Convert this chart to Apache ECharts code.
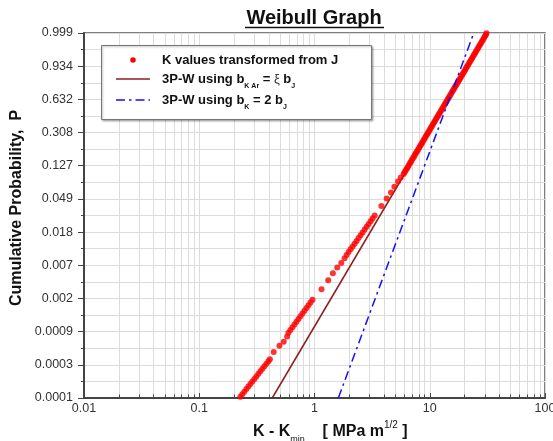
<!DOCTYPE html>
<html><head><meta charset="utf-8">
<script src="https://cdn.jsdelivr.net/npm/echarts@6/dist/echarts.min.js"></script>
<style>html,body{margin:0;padding:0;background:#fff}#c{width:553px;height:441px}</style>
</head><body><div id="c"></div>
<script>
const FONT = "'Liberation Sans', Arial, sans-serif";
const xTickLabels = ['0.01', '0.1', '1', '10', '100'];
const yTickLabels = ['0.0001','0.0003','0.0009','0.002','0.007','0.018','0.049','0.127','0.308','0.632','0.934','0.999'];

// K - Kmin values of the red dots
const kRed = [
  0.2272,0.2365,0.2461,0.2563,0.2668,0.2777,0.2890,0.3009,0.3132,0.3260,0.3393,0.3532,0.3675,0.3826,0.3981,0.4102,
  0.4426,0.4963,0.5408,0.5788,
  0.5941,0.6184,0.6437,0.6700,0.6974,0.7258,0.7555,0.7865,0.8187,0.8521,0.8869,0.9232,0.9608,
  1.150,1.315,1.443,1.575,1.707,1.823,
  1.898,1.976,2.056,2.140,2.228,2.319,2.413,2.512,2.615,2.722,2.833,2.949,3.069,3.194,3.325,
  3.802,4.228,4.609,4.932,5.301,5.596,
  5.934,6.052,6.171,6.293,6.418,6.545,6.674,6.806,6.940,7.077,7.217,7.360,7.505,7.654,7.805,7.960,
  8.117,8.278,8.441,8.608,8.778,8.952,9.129,9.309,9.492,9.680,9.871,10.067,10.265,10.468,10.675,10.886,
  11.101,11.321,11.545,11.773,12.006,12.243,12.485,12.733,12.984,13.241,13.503,13.770,14.042,14.320,14.603,14.892,
  15.186,15.486,15.792,16.104,16.423,16.748,17.079,17.416,17.761,18.112,18.470,18.835,19.208,19.588,19.975,20.370,
  20.772,21.183,21.602,22.029,22.465,22.910,23.363,23.825,24.296,24.776,25.266,25.766,26.275,26.795,27.324,27.865,
  28.416,28.978,29.551,30.115,30.731,31.04
];
// Weibull-transformed cumulative probability ln(-ln(1-P)) of the red dots
const wRed = [
  -8.964,-8.886,-8.810,-8.732,-8.657,-8.578,-8.503,-8.425,-8.349,-8.271,-8.196,-8.117,-8.042,-7.967,-7.889,-7.831,
  -7.617,-7.428,-7.307,-7.148,
  -7.036,-6.953,-6.870,-6.788,-6.705,-6.622,-6.539,-6.456,-6.373,-6.291,-6.208,-6.125,-6.042,
  -5.720,-5.449,-5.238,-5.069,-4.928,-4.786,
  -4.687,-4.602,-4.518,-4.434,-4.349,-4.265,-4.181,-4.096,-4.012,-3.925,-3.840,-3.756,-3.672,-3.587,-3.503,
  -3.211,-2.991,-2.810,-2.630,-2.479,-2.358,
  -2.25,-2.20,-2.15,-2.10,-2.05,-2.00,-1.95,-1.90,-1.85,-1.80,-1.75,-1.70,-1.65,-1.60,-1.55,-1.50,
  -1.45,-1.40,-1.35,-1.30,-1.25,-1.20,-1.15,-1.10,-1.05,-1.00,-0.95,-0.90,-0.85,-0.80,-0.75,-0.70,
  -0.65,-0.60,-0.55,-0.50,-0.45,-0.40,-0.35,-0.30,-0.25,-0.20,-0.15,-0.10,-0.05,0.00,0.05,0.10,
  0.15,0.20,0.25,0.30,0.35,0.40,0.45,0.50,0.55,0.60,0.65,0.70,0.75,0.80,0.85,0.90,
  0.95,1.00,1.05,1.10,1.15,1.20,1.25,1.30,1.35,1.40,1.45,1.50,1.55,1.60,1.65,1.70,
  1.75,1.80,1.85,1.90,1.95,1.99
];
const kBrown = [0.43, 31.9];
const wBrown = [-9, 2];
const kBlue = [1.61, 24.1];
const wBlue = [-9, 2];

const decades = [0.01, 0.1, 1, 10];
const minorMult = [2, 3, 4, 5, 6, 7, 8, 9];
const xMinor = [];
decades.forEach(d => minorMult.forEach(m => xMinor.push([+(d * m).toPrecision(3), -9])));

const zip = (a, b) => a.map((v, i) => [v, b[i]]);

const chart = echarts.init(document.getElementById('c'), null, {renderer: 'canvas'});
const gridCol = '#dcdcdc';
chart.setOption({
  animation: false,
  backgroundColor: '#fff',
  grid: {left: 84, right: 8, top: 33, bottom: 43, show: true, borderColor: '#555', borderWidth: 1.5,
    backgroundColor: '#fff', containLabel: false, outerBoundsMode: 'none'},
  xAxis: {
    type: 'log', logBase: 10, min: 0.01, max: 100,
    axisLine: {show: true, onZero: false, lineStyle: {color: '#444', width: 2}},
    axisTick: {show: true, inside: true, length: 5, lineStyle: {color: '#444'}},
    axisLabel: {margin: 4, fontSize: 12.5, fontFamily: FONT, color: '#333', hideOverlap: false,
      formatter: v => xTickLabels[Math.round(Math.log10(v)) + 2]},
    splitLine: {show: true, lineStyle: {color: gridCol, width: 1}}
  },
  yAxis: {
    type: 'value', min: -9, max: 2, interval: 1,
    axisLine: {show: true, onZero: false, lineStyle: {color: '#444', width: 2}},
    axisTick: {show: true, inside: false, length: 6, lineStyle: {color: '#444'}},
    minorTick: {show: true, splitNumber: 2, length: 3, lineStyle: {color: '#444'}},
    minorSplitLine: {show: true, lineStyle: {color: gridCol, width: 1}},
    axisLabel: {margin: 11, fontSize: 12.5, fontFamily: FONT, color: '#333',
      formatter: v => yTickLabels[Math.round(v) + 9]},
    splitLine: {show: true, lineStyle: {color: gridCol, width: 1}}
  },
  series: [
    {
      type: 'custom', z: 1, silent: true,
      data: xMinor, encode: {x: 0, y: 1},
      renderItem: (params, api) => {
        const b = api.coord([api.value(0), -9]);
        const t = api.coord([api.value(0), 2]);
        const x = Math.round(b[0]) + 0.5;
        return {type: 'group', children: [
          {type: 'line', shape: {x1: x, y1: t[1], x2: x, y2: b[1]}, style: {stroke: gridCol, lineWidth: 1}},
          {type: 'line', shape: {x1: x, y1: b[1], x2: x, y2: b[1] - 3.5}, style: {stroke: '#444', lineWidth: 1}}
        ]};
      }
    },
    {
      name: 'brown', type: 'line', z: 3, showSymbol: false, symbol: 'none',
      data: zip(kBrown, wBrown),
      lineStyle: {color: '#8B1E1E', width: 1.5}
    },
    {
      name: 'K values transformed from J', type: 'scatter', z: 4,
      data: zip(kRed, wRed), symbolSize: 6,
      itemStyle: {color: '#ff0000'}
    },
    {
      name: 'blue', type: 'line', z: 5, showSymbol: false, symbol: 'none',
      data: zip(kBlue, wBlue),
      lineStyle: {color: '#1010ff', width: 1.5, type: [9, 4, 2.5, 4]}
    }
  ],
  graphic: [
    {type: 'text', z: 100, x: 314, y: 18,
      style: {text: 'Weibull Graph', fill: '#111', font: 'bold 20px ' + FONT, align: 'center', verticalAlign: 'middle'}},
    {type: 'line', z: 100, shape: {x1: 245, y1: 27.5, x2: 384, y2: 27.5}, style: {stroke: '#111', lineWidth: 1.6}},
    {type: 'text', z: 100, x: 17, y: 208, rotation: Math.PI / 2,
      style: {text: 'Cumulative Probability,  P', fill: '#111', font: 'bold 16px ' + FONT, align: 'center', verticalAlign: 'middle'}},
    {type: 'text', z: 100, x: 253, y: 432,
      style: {
        text: '{b|K - K}{sub|min}{b|    [ MPa m}{sup|1/2}{b| ]}',
        align: 'left', verticalAlign: 'middle',
        rich: {
          b: {fontSize: 16, fontWeight: 'bold', fontFamily: FONT, fill: '#111', lineHeight: 24},
          sub: {fontSize: 9, fontFamily: FONT, fill: '#111', lineHeight: 8, verticalAlign: 'bottom'},
          sup: {fontSize: 10, fontFamily: FONT, fill: '#111', lineHeight: 9, verticalAlign: 'top'}
        }
      }},
    // legend
    {type: 'rect', z: 100, shape: {x: 101.5, y: 45.5, width: 270, height: 74},
      style: {fill: '#fff', stroke: '#777', lineWidth: 1, shadowBlur: 2, shadowOffsetX: 1, shadowOffsetY: 1, shadowColor: 'rgba(0,0,0,0.3)'}},
    {type: 'circle', z: 101, shape: {cx: 133, cy: 60, r: 2.75}, style: {fill: '#ff0000'}},
    {type: 'line', z: 101, shape: {x1: 116, y1: 79, x2: 150, y2: 79}, style: {stroke: '#8B1E1E', lineWidth: 1.5}},
    {type: 'line', z: 101, shape: {x1: 116, y1: 100, x2: 150, y2: 100}, style: {stroke: '#1010ff', lineWidth: 1.5, lineDash: [9, 4, 2.5, 4]}},
    {type: 'text', z: 101, x: 162, y: 60,
      style: {text: 'K values transformed from J', fill: '#111', font: 'bold 13px ' + FONT, align: 'left', verticalAlign: 'middle'}},
    {type: 'text', z: 101, x: 162, y: 79,
      style: {
        text: '{n|3P-W using b}{s|K Ar}{n| = }{g|ξ}{n| b}{s|J}',
        align: 'left', verticalAlign: 'middle',
        rich: {
          n: {fontSize: 13, fontWeight: 'bold', fontFamily: FONT, fill: '#111', lineHeight: 22},
          g: {fontSize: 13, fontFamily: FONT, fill: '#333', lineHeight: 22},
          s: {fontSize: 7, fontWeight: 'bold', fontFamily: FONT, fill: '#111', lineHeight: 5, verticalAlign: 'bottom'}
        }
      }},
    {type: 'text', z: 101, x: 162, y: 100,
      style: {
        text: '{n|3P-W using b}{s|K}{n| = 2 b}{s|J}',
        align: 'left', verticalAlign: 'middle',
        rich: {
          n: {fontSize: 13, fontWeight: 'bold', fontFamily: FONT, fill: '#111', lineHeight: 22},
          s: {fontSize: 7, fontWeight: 'bold', fontFamily: FONT, fill: '#111', lineHeight: 5, verticalAlign: 'bottom'}
        }
      }}
  ]
});
</script>
</body></html>
